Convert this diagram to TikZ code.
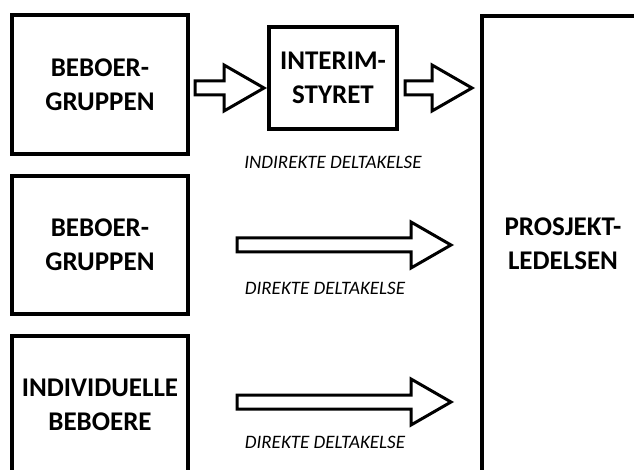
\documentclass[tikz,border=0pt]{standalone}
\usepackage{fontspec}
\setmainfont{Carlito}
\usetikzlibrary{calc}
\tikzset{
  box/.style={draw, line width=4pt, align=center, inner sep=0pt,
    font=\fontsize{27}{34}\selectfont\bfseries},
  blockarrow/.style={draw, line width=3pt, fill=white, line join=miter},
  deltlabel/.style={font=\fontsize{19}{23}\selectfont\itshape, inner sep=0pt}
}
\newcommand{\blockarrow}[2]{%
  \draw[blockarrow] ($(#1)+(0,-7)$) -- ($(#2)+(-40,-7)$) -- ($(#2)+(-40,-23)$)
    -- (#2) -- ($(#2)+(-40,23)$) -- ($(#2)+(-40,7)$) -- ($(#1)+(0,7)$) -- cycle;}
\begin{document}
\begin{tikzpicture}[x=1pt, y=-1pt]
	\useasboundingbox (0,0) rectangle (634,470);
	\clip (0,0) rectangle (634,470);
	% boxes
	\node[box, minimum width=176pt, minimum height=139pt] (gruppeA) at (100,84.5) {BEBOER-\\GRUPPEN};
	\node[box, minimum width=176pt, minimum height=138pt] (gruppeB) at (100,245) {BEBOER-\\GRUPPEN};
	\node[box, minimum width=176pt, minimum height=138pt] (individ) at (100,405) {INDIVIDUELLE\\BEBOERE};
	\node[box, minimum width=128pt, minimum height=102pt] (interim) at (333,78) {INTERIM-\\STYRET};
	\node[box, minimum width=162pt, minimum height=456pt] (prosjekt) at (563,244) {PROSJEKT-\\LEDELSEN};
	% arrow rows
	\coordinate (rowA) at (0,88);
	\coordinate (rowB) at (0,245);
	\coordinate (rowC) at (0,402);
	\coordinate (s1) at ($(gruppeA.east |- rowA)+(5,0)$);
	\coordinate (e1) at ($(interim.west |- rowA)+(-3,0)$);
	\coordinate (s2) at ($(interim.east |- rowA)+(6,0)$);
	\coordinate (e2) at ($(prosjekt.west |- rowA)+(-8,0)$);
	\coordinate (s3) at ($(gruppeB.east |- rowB)+(47,0)$);
	\coordinate (e3) at ($(prosjekt.west |- rowB)+(-29,0)$);
	\coordinate (s4) at ($(individ.east |- rowC)+(47,0)$);
	\coordinate (e4) at ($(prosjekt.west |- rowC)+(-29,0)$);
	\blockarrow{s1}{e1}
	\blockarrow{s2}{e2}
	\blockarrow{s3}{e3}
	\blockarrow{s4}{e4}
	% labels
	\node[deltlabel] (indirekte) at (333,162) {INDIREKTE DELTAKELSE};
	\node[deltlabel] (direkteB) at (325,288) {DIREKTE DELTAKELSE};
	\node[deltlabel] (direkteC) at (325,442) {DIREKTE DELTAKELSE};
\end{tikzpicture}
\end{document}
